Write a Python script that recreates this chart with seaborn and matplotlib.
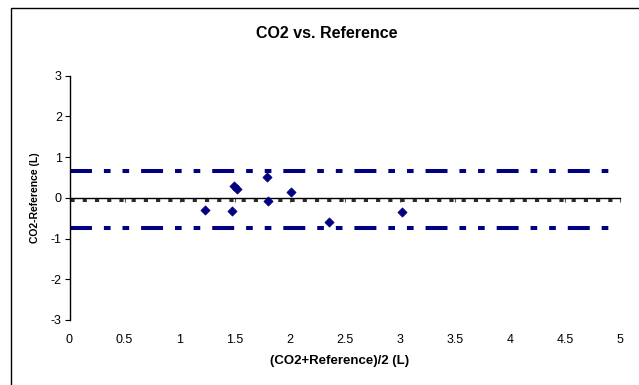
import matplotlib
matplotlib.use("Agg")
import matplotlib.pyplot as plt
from matplotlib.patches import Rectangle
import seaborn as sns
import pandas as pd

# Bland-Altman style data: mean of the two methods vs. difference
mean_vals = [1.23, 1.48, 1.49, 1.52, 1.79, 1.80, 2.01, 2.355, 3.02]
diff_vals = [-0.29, -0.32, 0.30, 0.22, 0.52, -0.09, 0.14, -0.60, -0.34]

mean_diff = -0.05
upper_limit = 0.66
lower_limit = -0.75

x_ticks = [0, 0.5, 1, 1.5, 2, 2.5, 3, 3.5, 4, 4.5, 5]
x_tick_labels = ["0", "0.5", "1", "1.5", "2", "2.5", "3", "3.5", "4", "4.5", "5"]
y_ticks = [-3, -2, -1, 0, 1, 2, 3]

df = pd.DataFrame({"avg": mean_vals, "diff": diff_vals})

sns.set_style("white")
plt.rcParams["font.family"] = ["Liberation Sans", "DejaVu Sans"]
plt.rcParams["lines.scale_dashes"] = False
plt.rcParams["axes.unicode_minus"] = False
plt.rcParams["text.color"] = "black"
plt.rcParams["axes.labelcolor"] = "black"

navy = "#000080"

fig = plt.figure(figsize=(6.39, 3.85), dpi=100)
ax = fig.add_axes([69.5 / 639, 1 - 320 / 385, (620 - 69.5) / 639, (320 - 75.5) / 385])

# limits of agreement and mean difference
ax.hlines([upper_limit, lower_limit], 0, 5, colors=navy, linewidth=2.9,
          linestyles=[(0, (15.8, 8.6, 4.8, 8.6, 4.8, 8.6))])
ax.hlines(mean_diff, 0, 5, colors="#2a2a2a", linewidth=2.2,
          linestyles=[(0, (3.0, 5.8))])

sns.scatterplot(data=df, x="avg", y="diff", marker="D", s=22, color=navy,
                edgecolor=navy, linewidth=0.5, ax=ax, zorder=5)

ax.set_xlim(0, 5)
ax.set_ylim(-3, 3)
ax.set_xticks(x_ticks)
ax.set_xticklabels(x_tick_labels)
ax.set_yticks(y_ticks)

for side in ["top", "right", "bottom"]:
    ax.spines[side].set_visible(False)
ax.spines["left"].set_color("black")
ax.spines["left"].set_linewidth(1.0)

ax.tick_params(axis="x", length=0, pad=10, labelsize=9, colors="black")
ax.tick_params(axis="y", direction="out", length=3.5, width=0.8, pad=2,
               labelsize=9, colors="black", left=True)

# x axis line crossing at y = 0
sec = ax.secondary_xaxis(0.5)
sec.set_alignment("bottom")
sec.set_xticks(x_ticks)
sec.tick_params(direction="out", length=3, width=0.8, color="#555555",
                labelbottom=False, labeltop=False)
sec.spines["bottom"].set_linewidth(1.0)
sec.spines["bottom"].set_color("black")

ax.set_xlabel("(CO2+Reference)/2 (L)", fontsize=9.5, fontweight="bold", labelpad=6)
ax.xaxis.set_label_coords(0.491, -0.145)
ax.set_ylabel("CO2-Reference (L)", fontsize=7.5, fontweight="bold", labelpad=8)
ax.set_title("CO2 vs. Reference", fontsize=11.5, fontweight="bold", pad=27,
             color="black", x=0.468)

# outer chart frame (extends past the image on right and bottom)
fig.patches.append(Rectangle((10.5 / 639, -0.1), 1.2, 1.1 - 8 / 385,
                             transform=fig.transFigure, fill=False,
                             edgecolor="black", linewidth=1.0))

fig.savefig("out.png", dpi=100)
